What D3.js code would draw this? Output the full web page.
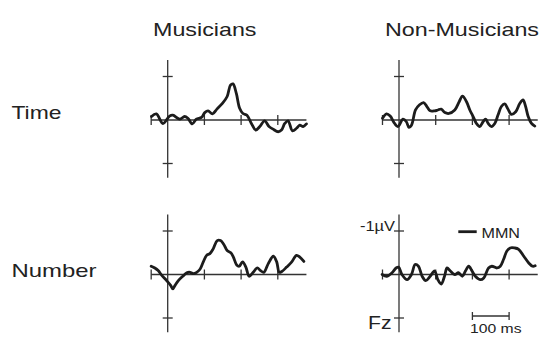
<!DOCTYPE html>
<html>
<head>
<meta charset="utf-8">
<script src="https://cdn.jsdelivr.net/npm/d3@7"></script>
<style>
  html, body { margin: 0; padding: 0; background: #fff; }
  svg { display: block; }
  text { font-family: "Liberation Sans", Arial, Helvetica, sans-serif; fill: #222; }
</style>
</head>
<body>
<div id="chart"></div>
<script>
// ---- Data (µV; negative plotted upward) ----
const columnLabels = ["Musicians", "Non-Musicians"];
const rowLabels = ["Time", "Number"];

const musTimeMs = [-44,-31,-13,5,14,33,46,55,67,78,92,101,110,122,134,149,162,171,178,187,196,205,216,228,240,251,264,276,287,301,310,319,328,340,351,360,369,378];
const musTimeUV = [-0.08,-0.14,0.08,-0.09,-0.11,-0.02,-0.08,-0.04,0.09,-0.02,-0.06,-0.17,-0.21,-0.14,-0.25,-0.38,-0.54,-0.80,-0.83,-0.61,-0.27,-0.15,-0.11,0.08,0.23,0.15,0.02,0.15,0.21,0.27,0.23,0.08,0.02,0.25,0.19,0.12,0.15,0.09];

const nonTimeMs = [-45,-34,-24,-12,-3,11,20,27,34,45,56,67,76,85,97,106,115,125,136,152,164,173,184,193,202,211,220,229,236,243,252,261,270,279,288,297,306,318,329,338,345,352,361,370];
const nonTimeUV = [-0.04,-0.14,-0.09,0.08,0.15,-0.02,0.04,0.17,0.12,-0.23,-0.35,-0.40,-0.31,-0.21,-0.21,-0.23,-0.25,-0.17,-0.15,-0.23,-0.42,-0.55,-0.42,-0.23,-0.08,0.08,0.15,0.04,-0.02,0.08,0.15,0.08,-0.12,-0.31,-0.37,-0.25,-0.13,-0.19,-0.38,-0.46,-0.31,-0.08,0.08,0.14];

const musNumMs = [-45,-35,-26,-16,-3,8,14,20,29,41,52,61,70,79,88,97,106,115,124,135,144,153,162,172,179,188,195,204,213,222,233,244,253,262,274,288,297,304,311,324,338,351,360,371];
const musNumUV = [-0.19,-0.15,-0.09,0.02,0.14,0.25,0.33,0.25,0.14,0.04,-0.04,-0.05,-0.02,-0.05,-0.12,-0.29,-0.44,-0.48,-0.59,-0.78,-0.78,-0.69,-0.55,-0.50,-0.40,-0.22,-0.19,-0.29,-0.17,0.04,-0.05,-0.15,-0.09,-0.05,-0.25,-0.42,-0.29,-0.05,-0.07,-0.17,-0.29,-0.44,-0.40,-0.30];

const nonNumMs = [-46,-33,-19,-8,-1,8,22,34,44,53,63,73,85,97,106,115,124,131,140,152,162,173,181,190,199,208,222,231,244,253,267,276,285,294,303,315,326,340,353,364,371];
const nonNumUV = [0,0.04,-0.04,-0.15,-0.17,0,0.12,0,-0.23,-0.19,0.04,0.14,0.04,-0.08,0.12,0.22,0.04,-0.15,-0.08,0,-0.04,0.04,-0.08,-0.19,-0.08,0.04,0.12,0.08,-0.15,-0.19,-0.15,-0.19,-0.35,-0.54,-0.61,-0.61,-0.58,-0.42,-0.27,-0.19,-0.20];

const xTickMs = [-45, 100, 200, 300];
const yTickUV = [-1, 1];
const scaleBarMs = [200, 300];
const legendLabel = "MMN";
const ampLabel = "-1\u00B5V";
const electrodeLabel = "Fz";
const scaleBarLabel = "100 ms";

const panels = [
  { row: 0, col: 0, ms: musTimeMs, uv: musTimeUV },
  { row: 0, col: 1, ms: nonTimeMs, uv: nonTimeUV },
  { row: 1, col: 0, ms: musNumMs, uv: musNumUV },
  { row: 1, col: 1, ms: nonNumMs, uv: nonNumUV }
];

// ---- Layout ----
const W = 540, H = 342;
const colZeroX = [167.7, 399.0];
const rowZeroY = [120, 274.5];
const pxPerMs = 0.367;
const pxPerUV = 43.5;
const xDomain = [-45, 378];
const yDomain = [-1.38, 1.33];

const svg = d3.select("#chart").append("svg").attr("width", W).attr("height", H);

function xScale(col) {
  return d3.scaleLinear().domain(xDomain)
    .range(xDomain.map(d => colZeroX[col] + d * pxPerMs));
}
function yScale(row) {
  return d3.scaleLinear().domain(yDomain)
    .range(yDomain.map(d => rowZeroY[row] + d * pxPerUV));
}

const axisColor = "#333";
const traceColor = "#1c1c1c";

panels.forEach(p => {
  const x = xScale(p.col), y = yScale(p.row);
  const g = svg.append("g");
  // horizontal axis
  g.append("line").attr("x1", x(xDomain[0])).attr("x2", x(xDomain[1]))
    .attr("y1", y(0)).attr("y2", y(0)).attr("stroke", axisColor).attr("stroke-width", 1.3);
  g.selectAll(".xt").data(xTickMs).enter().append("line")
    .attr("x1", d => x(d)).attr("x2", d => x(d))
    .attr("y1", y(0) - 5).attr("y2", y(0) + 5)
    .attr("stroke", axisColor).attr("stroke-width", 1.3);
  // vertical axis
  g.append("line").attr("x1", x(0)).attr("x2", x(0))
    .attr("y1", y(yDomain[0])).attr("y2", y(yDomain[1]))
    .attr("stroke", axisColor).attr("stroke-width", 1.3);
  g.selectAll(".yt").data(yTickUV).enter().append("line")
    .attr("x1", x(0) - 5).attr("x2", x(0) + 5)
    .attr("y1", d => y(d)).attr("y2", d => y(d))
    .attr("stroke", axisColor).attr("stroke-width", 1.3);
  // trace
  const pts = p.ms.map((t, i) => [t, p.uv[i]]);
  const line = d3.line().x(d => x(d[0])).y(d => y(d[1])).curve(d3.curveCatmullRom.alpha(0.5));
  g.append("path").attr("d", line(pts)).attr("fill", "none")
    .attr("stroke", traceColor).attr("stroke-width", 2.8)
    .attr("stroke-linejoin", "round").attr("stroke-linecap", "round");
});

function label(txt, xPos, yPos, size, len) {
  svg.append("text").attr("x", xPos).attr("y", yPos).attr("font-size", size)
    .attr("textLength", len).attr("lengthAdjust", "spacingAndGlyphs").text(txt);
}

// column & row titles
label(columnLabels[0], 153, 36, 19, 103.5);
label(columnLabels[1], 385, 36, 19, 154);
label(rowLabels[0], 11.5, 119, 19, 50);
label(rowLabels[1], 11.5, 277, 19, 85);

// annotations in last panel
const xr = xScale(1), yr = yScale(1);
label(ampLabel, 360, 231, 14, 35);
label(electrodeLabel, 368, 329, 18, 23.5);

// legend
svg.append("line").attr("x1", 458.3).attr("x2", 476.7).attr("y1", 231.7).attr("y2", 231.7)
  .attr("stroke", traceColor).attr("stroke-width", 2.8);
label(legendLabel, 481.5, 238, 14, 38.5);

// scale bar
const sbY = 316;
svg.append("line").attr("x1", xr(scaleBarMs[0])).attr("x2", xr(scaleBarMs[1]))
  .attr("y1", sbY).attr("y2", sbY).attr("stroke", axisColor).attr("stroke-width", 1.3);
scaleBarMs.forEach(t => {
  svg.append("line").attr("x1", xr(t)).attr("x2", xr(t))
    .attr("y1", sbY - 4).attr("y2", sbY + 4).attr("stroke", axisColor).attr("stroke-width", 1.3);
});
label(scaleBarLabel, 470, 333, 13.5, 51.5);
</script>
</body>
</html>
